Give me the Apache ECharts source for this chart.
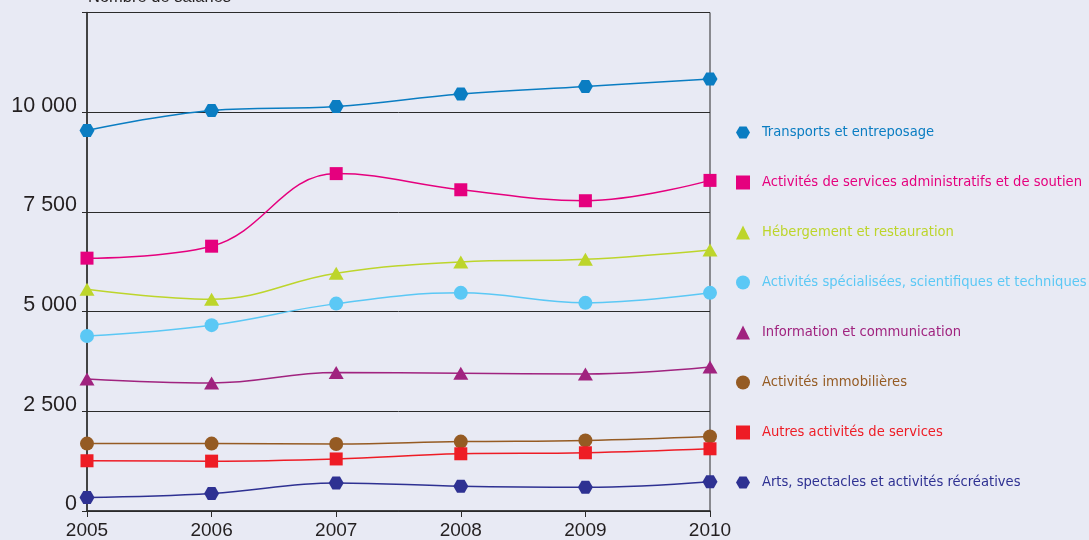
<!DOCTYPE html>
<html><head><meta charset="utf-8">
<script src="https://cdn.jsdelivr.net/npm/echarts@6/dist/echarts.min.js"></script>
<style>html,body{margin:0;padding:0;background:#e8eaf4;}#c{width:1089px;height:540px;}</style>
</head><body><div id="c"></div>
<script>
const years = ['2005','2006','2007','2008','2009','2010'];
const names = ['Transports et entreposage','Activités de services administratifs et de soutien','Hébergement et restauration','Activités spécialisées, scientifiques et techniques','Information et communication','Activités immobilières','Autres activités de services','Arts, spectacles et activités récréatives'];
const transports = [9540, 10040, 10140, 10455, 10645, 10830];
const admin = [6340, 6640, 8460, 8055, 7780, 8290];
const hebergement = [5560, 5310, 5960, 6245, 6310, 6545];
const specialisees = [4390, 4660, 5200, 5470, 5220, 5470];
const information = [3310, 3210, 3470, 3455, 3435, 3610];
const immobilieres = [1690, 1690, 1680, 1740, 1770, 1870];
const autres = [1260, 1250, 1305, 1435, 1460, 1560];
const arts = [340, 440, 705, 620, 595, 735];
const yTicks = [0, 2500, 5000, 7500, 10000, 12500];
const yTitle = 'Nombre de salariés';

const hex = 'path://M0,43.3 L25,0 L75,0 L100,43.3 L75,86.6 L25,86.6 Z';
const colors = ['#0a7dc2','#e5007e','#bdd52b','#5bc8f5','#a0237f','#955b23','#ee1c25','#2e3192'];
const symbols = [hex,'rect','triangle','circle','triangle','circle','rect',hex];
const sizes = [[15,13],13,[15,13],14,[15,13],14,13,[15,13]];
const datas = [transports, admin, hebergement, specialisees, information, immobilieres, autres, arts];

const chart = echarts.init(document.getElementById('c'));
const fmt = v => v === 12500 ? '' : String(v).replace(/\B(?=(\d{3})+(?!\d))/g, ' ');
chart.setOption({
  backgroundColor: '#e8eaf4',
  animation: false,
  grid: {left: 87, right: 379, top: 12.5, bottom: 28.5, show: true, borderColor: '#2b2b2b', borderWidth: 1, backgroundColor: 'transparent'},
  xAxis: {
    type: 'category', data: years, boundaryGap: false,
    axisLine: {lineStyle: {color: '#2b2b2b', width: 1.5}},
    axisTick: {show: true, length: 6, alignWithLabel: true, lineStyle: {color: '#2b2b2b'}},
    axisLabel: {color: '#231f20', fontSize: 19, fontFamily: 'Liberation Sans', margin: 10}
  },
  yAxis: {
    type: 'value', min: 0, max: 12500, interval: 2500,
    axisLine: {show: true, lineStyle: {color: '#2b2b2b', width: 1.5}},
    axisTick: {show: true, length: 5, lineStyle: {color: '#2b2b2b'}},
    splitLine: {lineStyle: {color: '#2b2b2b', width: 1}},
    axisLabel: {color: '#231f20', fontSize: 21.5, fontFamily: 'Liberation Sans', margin: 10, verticalAlign: 'bottom', lineHeight: 21, padding: [0,0,-4,0], formatter: fmt}
  },
  legend: {
    orient: 'vertical', left: 731, top: 120, itemWidth: 14, itemHeight: 14, itemGap: 35,
    textStyle: {fontSize: 14.6, lineHeight: 14, fontFamily: "'Liberation Sans Narrow','DejaVu Sans Condensed',sans-serif", padding: [0,0,0,7]},
    data: names.map((n, i) => ({name: n, icon: symbols[i], textStyle: {color: colors[i]}}))
  },
  graphic: [{type: 'text', x: 88, y: 6, style: {text: yTitle, fontSize: 16.5, fontFamily: 'Liberation Sans', fill: '#231f20', verticalAlign: 'bottom'}}],
  series: names.map((n, i) => ({
    name: n, type: 'line', data: datas[i], smooth: 0.4,
    symbol: symbols[i], symbolSize: sizes[i],
    lineStyle: {color: colors[i], width: 1.5},
    itemStyle: {color: colors[i]}
  }))
});
</script></body></html>
